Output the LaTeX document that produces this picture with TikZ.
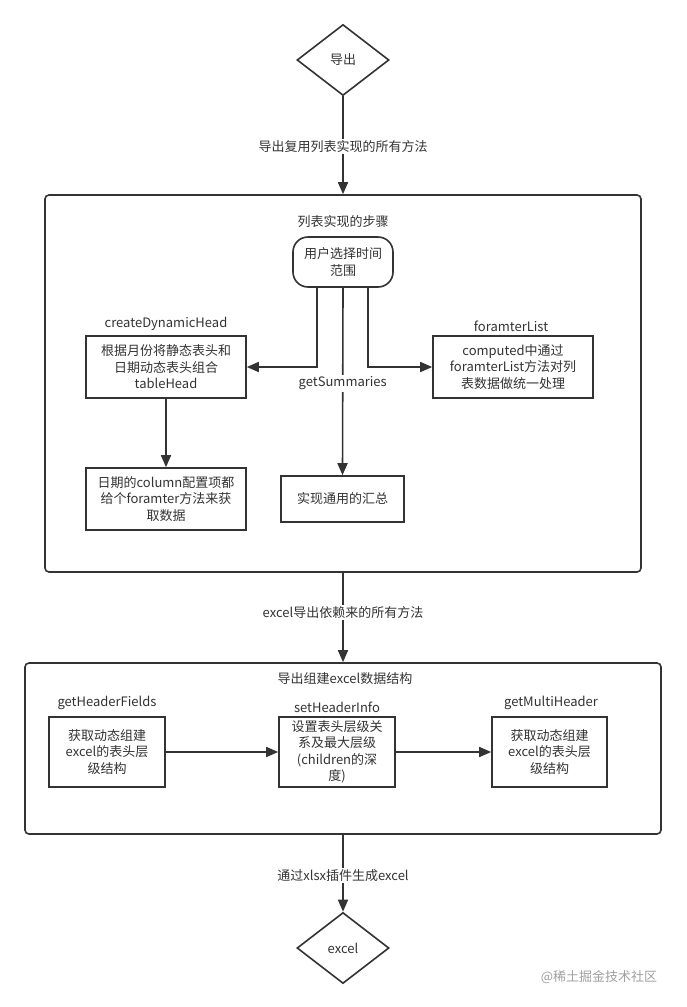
\documentclass[tikz,border=0pt]{standalone}
\usepackage{fontspec}
\setmainfont{Noto Sans CJK SC}
\usetikzlibrary{arrows.meta,shapes.geometric}
\definecolor{ink}{RGB}{51,51,51}
\definecolor{wm}{RGB}{160,160,160}
\begin{document}
\begin{tikzpicture}[x=1pt,y=-1pt,
  every node/.style={font=\fontsize{13pt}{16.5pt}\selectfont, text=ink},
  base/.style={draw=ink, line width=1.6pt, fill=white, inner sep=0pt, align=center},
  dia/.style={base, diamond, minimum width=92pt, minimum height=71pt},
  boxn/.style={base, rectangle},
  rbox/.style={base, rectangle, rounded corners=15pt},
  container/.style={base, rectangle, rounded corners=4pt, fill=none},
  lbl/.style={inner sep=1pt, align=center},
  edgelbl/.style={fill=white, inner sep=1.5pt},
  arr/.style={draw=ink, line width=1.6pt, -{Triangle[length=12pt,width=10pt]}},
  ln/.style={draw=ink, line width=1.6pt}
]
\useasboundingbox (0,0) rectangle (686,1007);
\fill[white] (0,0) rectangle (686,1007);

% containers
\node[container, minimum width=596pt, minimum height=377pt] (c1) at (343,383.5) {};
\node[container, minimum width=636pt, minimum height=171pt] (c2) at (343,748.5) {};

% diamonds
\node[dia] (d1) at (343,60) {导出};
\node[dia] (d2) at (343,948) {excel};

% first container content
\node[lbl] (t1) at (343,222) {列表实现的步骤};
\node[rbox, minimum width=100pt, minimum height=50pt] (r1) at (343,262) {用户选择时间\\范围};
\node[boxn, minimum width=160pt, minimum height=62pt] (b1) at (166,367) {根据月份将静态表头和\\日期动态表头组合\\tableHead};
\node[lbl] (t2) at (166,324) {createDynamicHead};
\node[boxn, minimum width=160pt, minimum height=62pt] (b2) at (166,499) {日期的column配置项都\\给个foramter方法来获\\取数据};
\node[boxn, minimum width=123pt, minimum height=46pt] (b3) at (342.5,499) {实现通用的汇总};
\node[boxn, minimum width=160pt, minimum height=62pt] (b4) at (513,367) {computed中通过\\foramterList方法对列\\表数据做统一处理};
\node[lbl] (t3) at (511,326) {foramterList};

% second container content
\node[lbl] (t4) at (345,679) {导出组建excel数据结构};
\node[boxn, minimum width=116pt, minimum height=70pt] (h1) at (107,752) {获取动态组建\\excel的表头层\\级结构};
\node[lbl] (t5) at (107,703) {getHeaderFields};
\node[boxn, minimum width=116pt, minimum height=70pt] (h2) at (337,752) {设置表头层级关\\系及最大层级\\(children的深\\度)};
\node[lbl] (t6) at (337,707) {setHeaderInfo};
\node[boxn, minimum width=115pt, minimum height=70pt] (h3) at (549.5,752) {获取动态组建\\excel的表头层\\级结构};
\node[lbl] (t7) at (551,703) {getMultiHeader};

% watermark
\node[text=wm, inner sep=0pt] (wmk) at (599,977) {@稀土掘金技术社区};

% connectors
\draw[arr] (d1.south) -- node[edgelbl, pos=0.51] {导出复用列表实现的所有方法} (c1.north);
\draw[arr] ([xshift=-26pt]r1.south) |- (b1.east);
\draw[arr] ([xshift=25pt]r1.south) |- (b4.west);
\draw[arr] (r1.south) -- node[edgelbl, pos=0.51] {getSummaries} (b3.north);
\draw[arr] (b1.south) -- (b2.north);
\draw[arr] (c1.south) -- node[edgelbl, pos=0.44] {excel导出依赖来的所有方法} (c2.north);
\draw[arr] (h1.east) -- (h2.west);
\draw[arr] (h2.east) -- (h3.west);
\draw[arr] (c2.south) -- node[edgelbl, pos=0.53] {通过xlsx插件生成excel} (d2.north);
\end{tikzpicture}
\end{document}
